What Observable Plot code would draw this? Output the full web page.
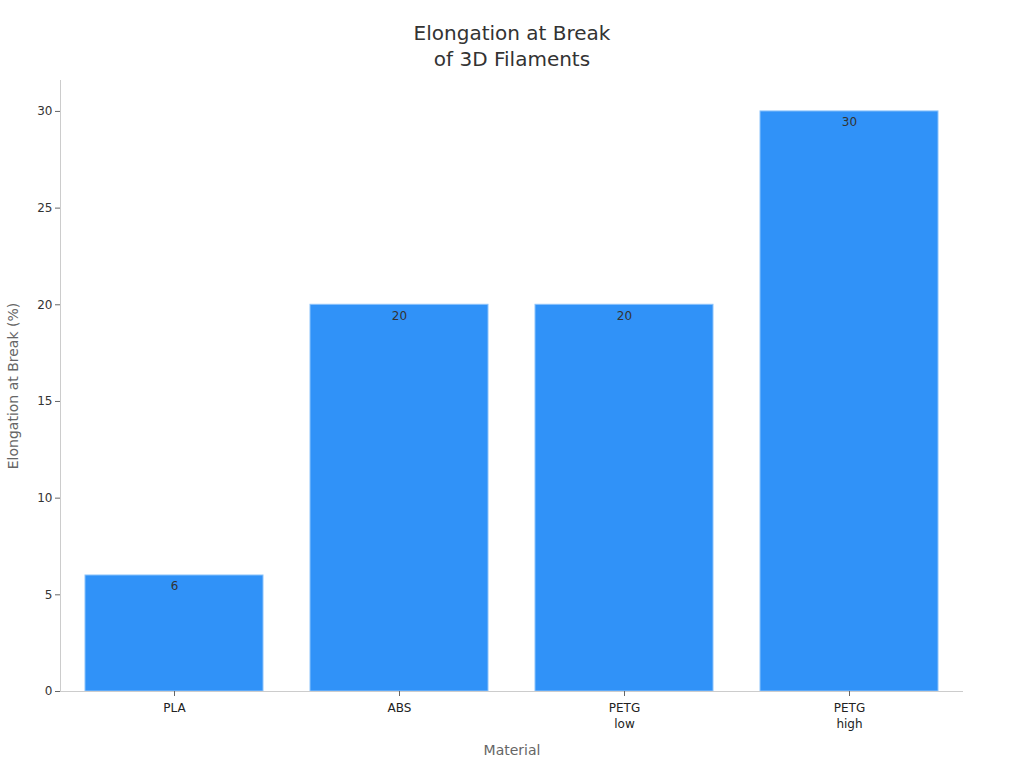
<!DOCTYPE html>
<html><head><meta charset="utf-8">
<script src="https://cdn.jsdelivr.net/npm/d3@7"></script>
<script src="https://cdn.jsdelivr.net/npm/@observablehq/plot@0.6"></script>
<style>
body{margin:0;background:#fff;font-family:"DejaVu Sans",sans-serif;}
#title{height:75px;text-align:center;font-size:20px;color:#333;line-height:26px;padding-top:20px;box-sizing:border-box;}
</style></head>
<body>
<div id="title">Elongation at Break<br>of 3D Filaments</div>
<div id="chart"></div>
<script>
const materials = ["PLA", "ABS", "PETG\nlow", "PETG\nhigh"];
const elongation = [6, 20, 20, 30];
const yTicks = [0, 5, 10, 15, 20, 25, 30];

const data = materials.map((m, i) => ({material: m, value: elongation[i]}));

const chart = Plot.plot({
  width: 1024,
  height: 693,
  marginTop: 5,
  marginBottom: 77,
  marginLeft: 60,
  marginRight: 61,
  style: {fontFamily: "DejaVu Sans, sans-serif", fontSize: "12px", color: "#333", background: "#fff"},
  x: {domain: materials, paddingInner: 0.21, paddingOuter: 0.105, label: null},
  y: {domain: [0, 31.6], label: null},
  marks: [
    Plot.frame({anchor: "left", stroke: "#ccc"}),
    Plot.barY(data, {x: "material", y: "value", fill: "#3092f8", stroke: "#8cc3fb", strokeWidth: 1}),
    Plot.ruleY([0], {stroke: "#ccc"}),
    Plot.text(data, {x: "material", y: "value", text: d => String(d.value), dy: 11, fill: "#333", fontSize: 12}),
    Plot.axisY({ticks: yTicks, tickSize: 5, tickPadding: 3, stroke: "#666", fill: "#333", fontSize: 12, label: null}),
    Plot.axisX({tickSize: 5, tickPadding: 4, stroke: "#666", fill: "#222", fontSize: 12, label: null, lineHeight: 1.35}),
    Plot.text(["Elongation at Break (%)"], {frameAnchor: "left", textAnchor: "middle", dx: -47, rotate: -90, fill: "#666", fontSize: 14}),
    Plot.text(["Material"], {frameAnchor: "bottom", dy: 63, fill: "#666", fontSize: 14})
  ]
});
document.getElementById("chart").appendChild(chart);
</script>
</body></html>
